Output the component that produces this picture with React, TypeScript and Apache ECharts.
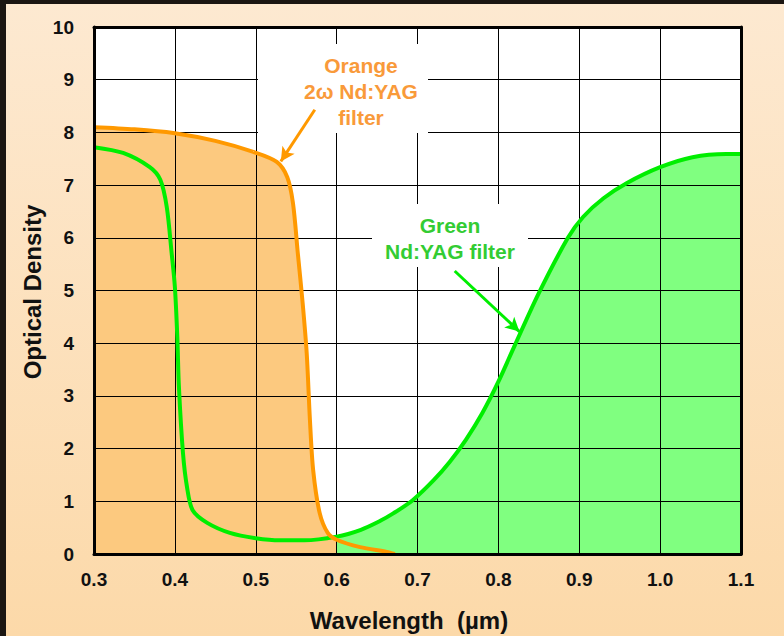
import React, { useEffect, useRef } from "react";
import * as echarts from "echarts";

// ---- data ----
const orangeWavelength = [0.3, 0.35, 0.398, 0.45, 0.497, 0.526, 0.539, 0.546, 0.552, 0.558, 0.563, 0.567, 0.571, 0.579, 0.589, 0.6, 0.629, 0.662, 0.672];
const orangeDensity = [8.1, 8.06, 7.99, 7.84, 7.63, 7.44, 7.15, 6.66, 5.71, 4.76, 3.81, 2.54, 1.59, 0.78, 0.4, 0.27, 0.13, 0.04, 0.0];

const greenWavelength = [0.3, 0.336, 0.369, 0.382, 0.39, 0.396, 0.4, 0.403, 0.405, 0.41, 0.415, 0.422, 0.44, 0.468, 0.5, 0.53, 0.56, 0.6, 0.63, 0.654, 0.67, 0.694, 0.72, 0.74, 0.76, 0.78, 0.8, 0.82, 0.85, 0.886, 0.905, 0.93, 0.959, 1.0, 1.04, 1.082, 1.1];
const greenDensity = [7.72, 7.61, 7.34, 7.1, 6.58, 5.71, 5.07, 4.12, 3.17, 1.92, 1.27, 0.83, 0.59, 0.4, 0.3, 0.26, 0.26, 0.33, 0.46, 0.63, 0.77, 1.02, 1.4, 1.75, 2.17, 2.67, 3.27, 3.95, 4.95, 6.0, 6.4, 6.75, 7.04, 7.34, 7.53, 7.59, 7.59];
const greenFillStart = 0.6;

const xMin = 0.3;
const xMax = 1.1;
const xStep = 0.1;
const yMin = 0;
const yMax = 10;
const yStep = 1;

const xTitle = "Wavelength  (\u00b5m)";
const yTitle = "Optical Density";
const orangeLabel = ["Orange", "2\u03c9 Nd:YAG", "filter"];
const greenLabel = ["Green", "Nd:YAG filter"];
// arrows: [startWavelength, startDensity, tipWavelength, tipDensity]
const orangeArrow = [0.573, 8.43, 0.531, 7.45];
const greenArrow = [0.746, 5.37, 0.826, 4.22];

const FONT = "'Liberation Sans', Arial, sans-serif";
const ORANGE_LINE = "#ff9900";
const ORANGE_FILL = "#fcc97f";
const ORANGE_TEXT = "#f99a3a";
const GREEN_LINE = "#00ee00";
const GREEN_FILL = "#80ff80";
const GREEN_TEXT = "#33cc33";
const SMOOTH = 0.3;

export default function App() {
  const ref = useRef<HTMLDivElement>(null);

  useEffect(() => {
    if (!ref.current) return;
    const chart = echarts.init(ref.current, undefined, { renderer: "svg" });

    const orangeData = orangeWavelength.map((w, i) => [w, orangeDensity[i]]);
    const greenData = greenWavelength.map((w, i) => [w, greenDensity[i]]);
    const greenFillData = greenData.filter((p) => p[0] >= greenFillStart);

    const axisLabelStyle = { color: "#111", fontFamily: FONT, fontWeight: "bold" as const, fontSize: 19 };

    const makeText = (text: string, x: number, y: number, fill: string, size: number, rotation = 0) => ({
      type: "text",
      x,
      y,
      rotation,
      z: 101,
      style: { text, fill, font: `bold ${size}px ${FONT}`, textAlign: "center", textVerticalAlign: "middle", verticalAlign: "middle" },
    });

    const frameX = (position: string) => ({
      type: "value",
      position,
      min: xMin,
      max: xMax,
      interval: xStep,
      z: 8,
      axisLine: { show: true, onZero: false, lineStyle: { color: "#000", width: 3 } },
      axisTick: { show: false },
      axisLabel: { show: false },
      splitLine: { show: false },
    });
    const frameY = (position: string) => ({
      type: "value",
      position,
      min: yMin,
      max: yMax,
      interval: yStep,
      z: 8,
      axisLine: { show: true, onZero: false, lineStyle: { color: "#000", width: 3 } },
      axisTick: { show: false },
      axisLabel: { show: false },
      splitLine: { show: false },
    });

    const lineSeries = (name: string, data: number[][], color: string, arrow: number[]) => ({
      name,
      type: "line",
      data,
      smooth: SMOOTH,
      showSymbol: false,
      symbol: "none",
      lineStyle: { color, width: 4 },
      z: 6,
      silent: true,
      markLine: {
        silent: true,
        animation: false,
        symbol: ["none", "arrow"],
        symbolSize: [11, 14],
        label: { show: false },
        lineStyle: { color, width: 3, type: "solid" },
        data: [[{ coord: [arrow[0], arrow[1]] }, { coord: [arrow[2], arrow[3]] }]],
      },
    });

    const fillSeries = (name: string, data: number[][], color: string) => ({
      name,
      type: "line",
      data,
      smooth: SMOOTH,
      showSymbol: false,
      symbol: "none",
      lineStyle: { width: 0, opacity: 0 },
      areaStyle: { color, opacity: 1 },
      z: 1,
      silent: true,
    });

    const option: any = {
      animation: false,
      backgroundColor: "#1b1612",
      grid: { left: 94, right: 43, top: 27, bottom: 82, show: true, backgroundColor: "#ffffff", borderWidth: 0 },
      xAxis: [
        {
          type: "value",
          min: xMin,
          max: xMax,
          interval: xStep,
          z: 3,
          axisLine: { show: false, onZero: false },
          axisTick: { show: false },
          axisLabel: { ...axisLabelStyle, margin: 16, formatter: (v: number) => v.toFixed(1) },
          splitLine: { show: true, lineStyle: { color: "#000", width: 1 } },
        },
        frameX("top"),
        frameX("bottom"),
      ],
      yAxis: [
        {
          type: "value",
          min: yMin,
          max: yMax,
          interval: yStep,
          z: 3,
          axisLine: { show: false, onZero: false },
          axisTick: { show: false },
          axisLabel: { ...axisLabelStyle, margin: 20 },
          splitLine: { show: true, lineStyle: { color: "#000", width: 1 } },
        },
        frameY("right"),
        frameY("left"),
      ],
      series: [
        fillSeries("orangeFill", orangeData, ORANGE_FILL),
        fillSeries("greenFill", greenFillData, GREEN_FILL),
        lineSeries("green", greenData, GREEN_LINE, greenArrow),
        lineSeries("orange", orangeData, ORANGE_LINE, orangeArrow),
      ],
      graphic: [
        {
          type: "rect",
          z: -10,
          shape: { x: 6, y: 4, width: 778, height: 632 },
          style: {
            fill: new echarts.graphic.LinearGradient(0, 0, 0, 1, [
              { offset: 0, color: "#fde9d1" },
              { offset: 1, color: "#fcd9a9" },
            ]),
          },
        },
        { type: "rect", z: 4, shape: { x: 258, y: 44, width: 170, height: 89 }, style: { fill: "#ffffff" } },
        { type: "rect", z: 4, shape: { x: 372, y: 204, width: 156, height: 63 }, style: { fill: "#ffffff" } },
        makeText(orangeLabel[0], 361, 65, ORANGE_TEXT, 21),
        makeText(orangeLabel[1], 361, 91, ORANGE_TEXT, 21),
        makeText(orangeLabel[2], 361, 117, ORANGE_TEXT, 21),
        makeText(greenLabel[0], 450, 225, GREEN_TEXT, 21),
        makeText(greenLabel[1], 450, 251, GREEN_TEXT, 21),
        makeText(xTitle, 409, 620, "#111", 24),
        makeText(yTitle, 32, 292, "#111", 24, Math.PI / 2),
      ],
    };

    chart.setOption(option);
    return () => chart.dispose();
  }, []);

  return (
    <div style={{ position: "fixed", left: 0, top: 0, width: 784, height: 636, background: "#1b1612" }}>
      <div ref={ref} style={{ width: 784, height: 636 }} />
    </div>
  );
}
